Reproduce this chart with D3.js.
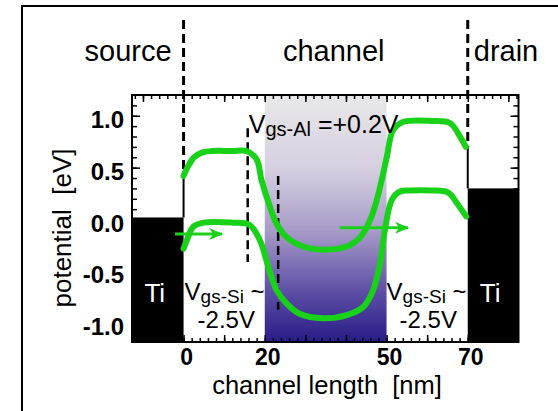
<!DOCTYPE html>
<html>
<head>
<meta charset="utf-8">
<script src="https://cdn.jsdelivr.net/npm/d3@7"></script>
<style>
	body { margin: 0; background: #fff; }
	svg { display: block; font-family: "Liberation Sans", Arial, sans-serif; }
</style>
</head>
<body>
<div class="chart"></div>
<script>
// band edges (nm, eV)
var upperX = [0, 1.2, 2.6, 4.5, 7, 12, 15.5, 18, 19.2, 21.3, 22.9, 25.4, 29.5, 34.4, 40.2, 43.5, 45.9, 47.6, 48.8, 50.1, 51.6, 54.0, 61.4, 65.6, 68.1, 69.5];
var upperY = [0.42, 0.52, 0.60, 0.645, 0.66, 0.66, 0.66, 0.58, 0.38, 0.12, -0.04, -0.17, -0.26, -0.29, -0.26, -0.17, -0.01, 0.19, 0.38, 0.61, 0.86, 0.94, 0.95, 0.93, 0.80, 0.70];
var lowerX = [0, 0.8, 2.4, 4.9, 12, 16.2, 18.8, 20.9, 22.9, 25.4, 28.7, 34.4, 40.2, 44.3, 46.7, 48.4, 49.6, 51.3, 53.3, 55.8, 61, 65.2, 67.3, 69.6];
var lowerY = [-0.28, -0.20, -0.07, -0.03, -0.03, -0.05, -0.20, -0.46, -0.68, -0.81, -0.91, -0.95, -0.92, -0.84, -0.68, -0.42, -0.10, 0.19, 0.27, 0.28, 0.28, 0.26, 0.16, 0.03];

var xTicks = [0, 20, 50, 70];
var yTicks = [1.0, 0.5, 0.0, -0.5, -1.0];
var yTickLabels = ["1.0", "0.5", "0.0", "-0.5", "-1.0"];

var boundaryX = [0, 70];          // source|channel|drain
var gateRange = [20, 50];         // Al gate (shaded)
var tiX0 = [-12.7, 70], tiX1 = [0, 82.5], tiTop = [0.02, 0.30];
var markX = [15.8, 23.3], markTop = [0.88, 0.42], markBottom = [-0.41, -0.87];
var arrowX0 = [-2.1, 38.5], arrowX1 = [9.5, 55.3], arrowY = [-0.14, -0.08];

(function () {

	var green = "#1ad11a";

	var svg = d3.select(".chart")
		.append("svg")
		.attr("width", 558)
		.attr("height", 411);

	var x = d3.scaleLinear().domain([-12.7, 82.5]).range([132, 518.5]);
	var y = d3.scaleLinear().domain([-1.18, 1.2]).range([342, 95]);

	var defs = svg.append("defs");
	var grad = defs.append("linearGradient")
		.attr("id", "gate")
		.attr("x1", 0).attr("y1", 0).attr("x2", 0).attr("y2", 1);
	[[0, "#e8e8ea"], [0.3, "#d6cfe0"], [0.55, "#a79bc8"], [0.8, "#5c4da4"], [1, "#281c86"]]
		.forEach(function (s) {
			grad.append("stop").attr("offset", s[0]).attr("stop-color", s[1]);
		});

	defs.append("marker")
		.attr("id", "head")
		.attr("markerUnits", "userSpaceOnUse")
		.attr("viewBox", "0 0 14 12")
		.attr("markerWidth", 14).attr("markerHeight", 12)
		.attr("refX", 13).attr("refY", 6)
		.attr("orient", "auto")
		.append("path")
		.attr("d", "M0,0 L14,6 L0,12 L4,6 Z")
		.attr("fill", green);

	// outer frame (only top and left visible)
	svg.append("path")
		.attr("d", "M22,411 V6 H558")
		.attr("fill", "none")
		.attr("stroke", "#000")
		.attr("stroke-width", 2);

	// shaded gate region
	svg.append("rect")
		.attr("x", x(gateRange[0]))
		.attr("y", y(1.2))
		.attr("width", x(gateRange[1]) - x(gateRange[0]))
		.attr("height", y(-1.18) - y(1.2))
		.attr("fill", "url(#gate)");

	// Ti contacts
	svg.selectAll(".ti")
		.data(tiTop)
		.enter().append("rect")
		.attr("class", "ti")
		.attr("x", function (d, i) { return x(tiX0[i]); })
		.attr("y", function (d) { return y(d); })
		.attr("width", function (d, i) { return x(tiX1[i]) - x(tiX0[i]); })
		.attr("height", function (d) { return y(-1.18) - y(d); })
		.attr("fill", "#000");

	// source / drain boundaries: dashed above, solid down to the contact
	var ends = [upperY[0], upperY[upperY.length - 1]];
	boundaryX.forEach(function (b, i) {
		svg.append("line")
			.attr("x1", x(b)).attr("x2", x(b))
			.attr("y1", 20).attr("y2", y(ends[i]))
			.attr("stroke", "#000")
			.attr("stroke-width", 3)
			.attr("stroke-dasharray", "9,5");
		svg.append("line")
			.attr("x1", x(b)).attr("x2", x(b))
			.attr("y1", y(ends[i])).attr("y2", y(tiTop[i]))
			.attr("stroke", "#000")
			.attr("stroke-width", 2);
	});

	// dashed markers inside the channel
	svg.selectAll(".mark")
		.data(markX)
		.enter().append("line")
		.attr("class", "mark")
		.attr("x1", function (d) { return x(d); })
		.attr("x2", function (d) { return x(d); })
		.attr("y1", function (d, i) { return y(markTop[i]); })
		.attr("y2", function (d, i) { return y(markBottom[i]); })
		.attr("stroke", "#000")
		.attr("stroke-width", 2.5)
		.attr("stroke-dasharray", "9,5");

	// band curves
	var line = d3.line()
		.x(function (d) { return x(d[0]); })
		.y(function (d) { return y(d[1]); })
		.curve(d3.curveCatmullRom.alpha(0.5));

	[[upperX, upperY], [lowerX, lowerY]].forEach(function (c) {
		svg.append("path")
			.datum(d3.zip(c[0], c[1]))
			.attr("d", line)
			.attr("fill", "none")
			.attr("stroke", green)
			.attr("stroke-width", 6)
			.attr("stroke-linecap", "round");
	});

	// arrows
	svg.selectAll(".arrow")
		.data(arrowY)
		.enter().append("line")
		.attr("class", "arrow")
		.attr("x1", function (d, i) { return x(arrowX0[i]); })
		.attr("x2", function (d, i) { return x(arrowX1[i]); })
		.attr("y1", function (d) { return y(d); })
		.attr("y2", function (d) { return y(d); })
		.attr("stroke", green)
		.attr("stroke-width", 3)
		.attr("marker-end", "url(#head)");

	// plot frame
	svg.append("rect")
		.attr("x", x(-12.7)).attr("y", y(1.2))
		.attr("width", x(82.5) - x(-12.7))
		.attr("height", y(-1.18) - y(1.2))
		.attr("fill", "none")
		.attr("stroke", "#000")
		.attr("stroke-width", 2);

	// inward ticks on all four sides
	var minorX = d3.range(-12, 83, 2), minorY = d3.range(-11, 12).map(function (d) { return d / 10; });
	function ticks(axis, vals, size, tr) {
		svg.append("g")
			.attr("transform", tr)
			.call(axis.tickValues(vals).tickSize(size).tickSizeOuter(0).tickFormat(""))
			.call(function (g) { g.select(".domain").remove(); })
			.selectAll("line").attr("stroke-width", 1.5);
	}
	var majX = minorX.filter(function (d) { return d % 10 === 0; });
	var majY = [-1, -0.5, 0, 0.5, 1];
	ticks(d3.axisBottom(x), minorX, -4, "translate(0," + y(-1.18) + ")");
	ticks(d3.axisBottom(x), majX, -7, "translate(0," + y(-1.18) + ")");
	ticks(d3.axisTop(x), minorX, -4, "translate(0," + y(1.2) + ")");
	ticks(d3.axisTop(x), majX, -7, "translate(0," + y(1.2) + ")");
	ticks(d3.axisLeft(y), minorY, -5, "translate(" + x(-12.7) + ",0)");
	ticks(d3.axisLeft(y), majY, -8, "translate(" + x(-12.7) + ",0)");
	ticks(d3.axisRight(y), minorY, -5, "translate(" + x(82.5) + ",0)");
	ticks(d3.axisRight(y), majY, -8, "translate(" + x(82.5) + ",0)");

	// tick labels
	svg.selectAll(".ylab")
		.data(yTicks)
		.enter().append("text")
		.attr("class", "ylab")
		.attr("x", x(-12.7) - 8)
		.attr("y", function (d) { return y(d) + 12; })
		.attr("text-anchor", "end")
		.attr("font-size", 24)
		.attr("font-weight", "bold")
		.text(function (d, i) { return yTickLabels[i]; });

	svg.selectAll(".xlab")
		.data(xTicks)
		.enter().append("text")
		.attr("class", "xlab")
		.attr("x", function (d) { return x(d) + 3; })
		.attr("y", 365)
		.attr("text-anchor", "middle")
		.attr("font-size", 23)
		.attr("font-weight", "bold")
		.text(function (d) { return d; });

	// axis titles
	svg.append("text")
		.attr("x", 327).attr("y", 394)
		.attr("text-anchor", "middle")
		.attr("font-size", 25.5)
		.style("white-space", "pre")
		.text("channel length  [nm]");

	svg.append("text")
		.attr("transform", "translate(71,228) rotate(-90)")
		.attr("text-anchor", "middle")
		.attr("font-size", 26)
		.style("white-space", "pre")
		.text("potential  [eV]");

	// region labels
	svg.append("text").attr("x", x(0) - 12).attr("y", 61)
		.attr("text-anchor", "end").attr("font-size", 29).text("source");
	svg.append("text").attr("x", x(37)).attr("y", 61)
		.attr("text-anchor", "middle").attr("font-size", 29).text("channel");
	svg.append("text").attr("x", x(70) + 6).attr("y", 61)
		.attr("text-anchor", "start").attr("font-size", 29).text("drain");

	// Ti labels
	[0, 1].forEach(function (i) {
		svg.append("text")
			.attr("x", (x(tiX0[i]) + x(tiX1[i])) / 2 - 3)
			.attr("y", 302)
			.attr("text-anchor", "middle")
			.attr("font-size", 26)
			.attr("fill", "#fff")
			.text("Ti");
	});

	// gate voltage labels
	var al = svg.append("text")
		.attr("x", x(markX[0]) + 1).attr("y", 133)
		.attr("font-size", 25);
	al.append("tspan").text("V");
	al.append("tspan").attr("font-size", 20).attr("dy", 3).text("gs-Al");
	al.append("tspan").attr("dy", -3).style("white-space", "pre").text(" =+0.2V");

	[x(0) + 1, x(50)].forEach(function (px) {
		var t = svg.append("text")
			.attr("x", px).attr("y", 300)
			.attr("font-size", 24);
		t.append("tspan").text("V");
		t.append("tspan").attr("font-size", 19).attr("dy", 3).text("gs-Si");
		t.append("tspan").attr("dy", -3).style("white-space", "pre").text(" ~");
		svg.append("text")
			.attr("x", px + 13).attr("y", 328)
			.attr("font-size", 24)
			.text("-2.5V");
	});

})();
</script>
</body>
</html>
